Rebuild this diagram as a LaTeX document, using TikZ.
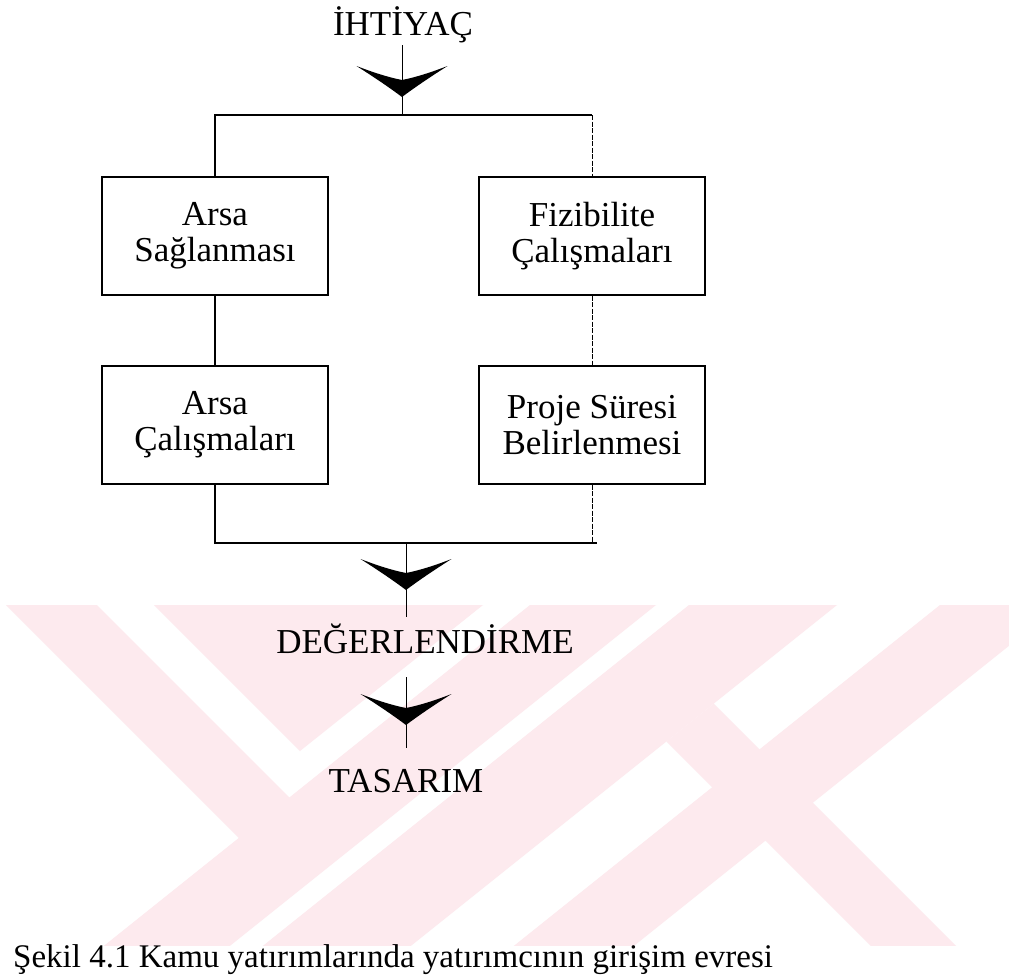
\documentclass[tikz,border=0pt]{standalone}
\usepackage{fontspec}
\setmainfont{Liberation Serif}
\definecolor{wm}{RGB}{253,234,238}
\begin{document}
\begin{tikzpicture}[x=1pt,y=-1pt,
  box/.style={draw=black,line width=1.3pt,minimum width=226pt,minimum height=118pt,inner sep=0pt,align=center,font=\fontsize{35}{36}\selectfont},
  lbl/.style={font=\fontsize{35}{38}\selectfont,inner sep=0pt,anchor=base},
  link/.style={line width=1.2pt},
  dlink/.style={line width=0.8pt,dash pattern=on 5pt off 1.5pt},
  cline/.style={line width=0.8pt},
  chevron/.pic={\fill (0,0) .. controls (-14,-10.5) and (-29,-20.5) .. (-45.5,-31)
      .. controls (-30,-25) and (-15,-20) .. (0,-17)
      .. controls (15,-20) and (30,-25) .. (45.5,-31)
      .. controls (29,-20.5) and (14,-10.5) .. (0,0) -- cycle;}
]
\useasboundingbox (0,0) rectangle (1009,977);
\fill[white] (0,0) rectangle (1009,977);
% watermark
\begin{scope}
\clip (0,605) rectangle (1009,945);
\fill[wm] (6,605) -- (97,605) -- (317.4,825.4) -- (266.9,865.9) -- cycle;
\fill[wm] (154,605) -- (483,605) -- (300,751) -- cycle;
\fill[wm] (530,605) -- (656,605) -- (206,965) -- (80,965) -- cycle;
\fill[wm] (689,605) -- (837,605) -- (387,965) -- (239,965) -- cycle;
\fill[wm] (940,605) -- (1060,605) -- (610,965) -- (490,965) -- cycle;
\fill[wm] (713.7,703.7) -- (975,965) -- (890,965) -- (666.4,741.4) -- cycle;
\end{scope}
% texts
\node[lbl] (t0) at (403,35) {İHTİYAÇ};
\node[lbl] (t1) at (425,653) {DEĞERLENDİRME};
\node[lbl] (t2) at (406,792) {TASARIM};
% boxes
\node[box] (b1) at (215,236) {Arsa\\Sağlanması};
\node[box] (b2) at (592,236) {Fizibilite\\Çalışmaları};
\node[box] (b3) at (215,425) {Arsa\\Çalışmaları};
\node[box] (b4) at (592,425) {Proje Süresi\\Belirlenmesi};
% coordinates
\coordinate (c0) at (402,45);
\coordinate (jt) at (402,115);
\coordinate (jtr) at (592,115);
\coordinate (jb) at (406,543);
\coordinate (jbr) at (597,543);
\coordinate (c1) at (406,617);
\coordinate (c2) at (406,677);
\coordinate (c3) at (406,748);
% connectors
\draw[cline] (c0) -- (jt);
\draw[link] (b1.north) |- (jt) -- (jtr);
\draw[dlink] (jtr) -- (b2.north);
\draw[link] (b1.south) -- (b3.north);
\draw[dlink] (b2.south) -- (b4.north);
\draw[link] (b3.south) |- (jb) -- (jbr);
\draw[dlink] (b4.south) -- (b4.south |- jbr);
\draw[cline] (jb) -- (c1);
\draw[cline] (c2) -- (c3);
% chevrons
\pic at (402,97) {chevron};
\pic at (406,590) {chevron};
\pic at (406,725) {chevron};
% caption (at the bottom edge)
\node[anchor=base west,inner sep=0pt,font=\fontsize{33}{36}\selectfont] (cap) at (13,967) {Şekil 4.1 Kamu yatırımlarında yatırımcının girişim evresi};
\end{tikzpicture}
\end{document}
